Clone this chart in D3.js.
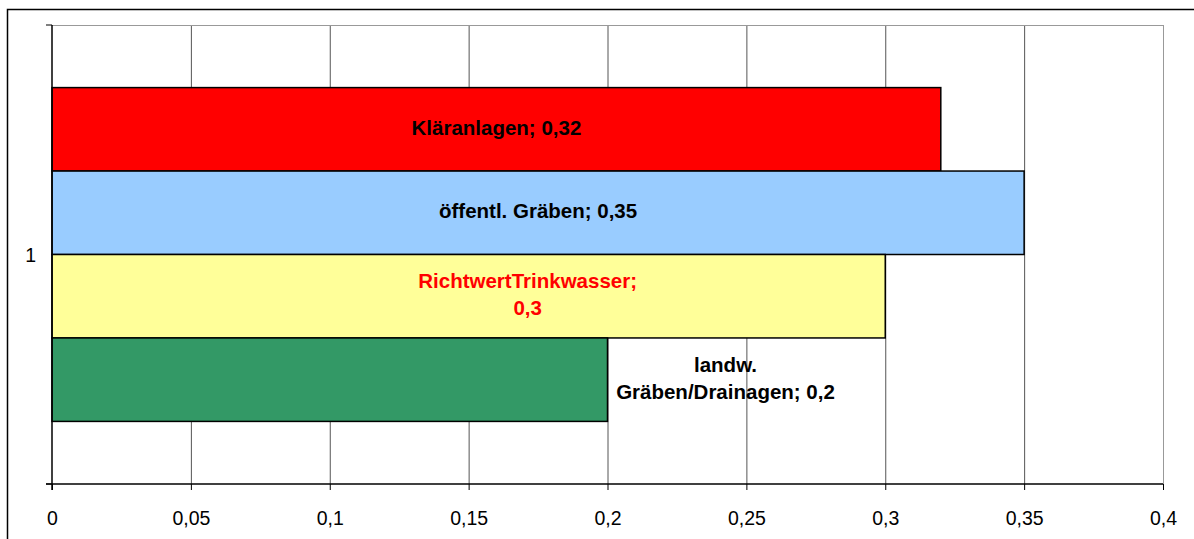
<!DOCTYPE html>
<html>
<head>
<meta charset="utf-8">
<script src="https://cdn.jsdelivr.net/npm/d3@7"></script>
<style>
  body { margin: 0; background: #fff; }
  svg { display: block; font-family: "Liberation Sans", Arial, sans-serif; }
</style>
</head>
<body>
<svg id="chart" width="1194" height="539"></svg>
<script>
// data
var categories = ["1"];
var seriesNames = ["Kläranlagen", "öffentl. Gräben", "RichtwertTrinkwasser", "landw. Gräben/Drainagen"];
var seriesValues = [0.32, 0.35, 0.3, 0.2];
var seriesColors = ["#ff0000", "#99ccff", "#ffff99", "#339966"];
var labelLines = [
	["Kläranlagen; 0,32"],
	["öffentl. Gräben; 0,35"],
	["RichtwertTrinkwasser;", "0,3"],
	["landw.", "Gräben/Drainagen; 0,2"]
];
var labelColors = ["#000", "#000", "#ff0000", "#000"];
var xTicks = [0, 0.05, 0.1, 0.15, 0.2, 0.25, 0.3, 0.35, 0.4];

var svg = d3.select("#chart");
var W = +svg.attr("width"), H = +svg.attr("height");
var margin = { left: 52, top: 25, right: 31, bottom: 55 };

var x = d3.scaleLinear().domain([0, 0.4]).range([margin.left, W - margin.right]);
var y0 = d3.scaleBand().domain(categories).range([margin.top, H - margin.bottom]);
var y1 = d3.scaleBand().domain(seriesNames).range([0, y0.bandwidth()]).paddingInner(0).paddingOuter(0.75);

var fmt = function (v) { return String(v).replace(".", ","); };

// outer chart border (runs off the page right and bottom)
svg.append("path")
	.attr("d", "M7.5," + (H + 5) + "V9.5H" + (W + 5))
	.attr("fill", "none")
	.attr("stroke", "#000")
	.attr("stroke-width", 1.5);

// gridlines
svg.append("g")
	.selectAll("line")
	.data(xTicks.slice(1))
	.join("line")
	.attr("x1", d => x(d) + 0.5).attr("x2", d => x(d) + 0.5)
	.attr("y1", margin.top).attr("y2", H - margin.bottom)
	.attr("stroke", function (d, i) { return i == xTicks.length - 2 ? "#999" : "#555"; })
	.attr("stroke-width", 1);

// plot area top border
svg.append("line")
	.attr("x1", margin.left).attr("x2", x(0.4) + 0.5)
	.attr("y1", margin.top + 0.5).attr("y2", margin.top + 0.5)
	.attr("stroke", "#999");

// bars
var g = svg.append("g").attr("transform", "translate(0," + y0(categories[0]) + ")");
g.selectAll("rect")
	.data(seriesValues)
	.join("rect")
	.attr("x", x(0))
	.attr("y", (d, i) => y1(seriesNames[i]))
	.attr("width", d => x(d) - x(0))
	.attr("height", y1.bandwidth())
	.attr("fill", (d, i) => seriesColors[i])
	.attr("stroke", "#000")
	.attr("stroke-width", 1.5);

// data labels (Excel puts the wrapped ones a bit off centre)
var labelShift = [0, 0, 59, 0];
g.selectAll("text.lbl")
	.data(seriesValues)
	.join("text")
	.attr("class", "lbl")
	.attr("text-anchor", "middle")
	.attr("font-size", "20.5px")
	.attr("font-weight", "bold")
	.attr("fill", (d, i) => labelColors[i])
	.each(function (d, i) {
		var lines = labelLines[i];
		var cx = i == 3 ? x(d) + 118 : (x(0) + x(d)) / 2 + labelShift[i];
		var cy = y1(seriesNames[i]) + y1.bandwidth() / 2 - 2;
		var lh = 27;
		var t = d3.select(this);
		lines.forEach(function (s, k) {
			t.append("tspan")
				.attr("x", cx)
				.attr("y", cy + (k - (lines.length - 1) / 2) * lh)
				.attr("dy", "0.36em")
				.text(s);
		});
	});

// x axis
var xAxis = svg.append("g")
	.attr("transform", "translate(0," + (H - margin.bottom) + ")")
	.call(d3.axisBottom(x).tickValues(xTicks).tickFormat(fmt).tickSize(6).tickSizeOuter(0));
xAxis.select(".domain").attr("stroke", "#000").attr("stroke-width", 1.5).attr("d", "M" + (margin.left - 6) + ",0H" + x(0.4));
xAxis.selectAll(".tick line").attr("stroke", "#000");
xAxis.selectAll(".tick text")
	.attr("font-family", "Liberation Sans, Arial, sans-serif")
	.attr("font-size", "19.5px")
	.attr("fill", "#000")
	.attr("y", 27)
	.attr("dy", "0.71em");

// y axis (category axis, ticks between categories)
var yAxis = svg.append("g").attr("transform", "translate(" + margin.left + ",0)");
yAxis.append("line")
	.attr("x1", 0).attr("x2", 0)
	.attr("y1", margin.top).attr("y2", H - margin.bottom + 6)
	.attr("stroke", "#000").attr("stroke-width", 1.5);
yAxis.selectAll("line.tk")
	.data(y0.range())
	.join("line")
	.attr("class", "tk")
	.attr("x1", -6).attr("x2", 0)
	.attr("y1", d => d).attr("y2", d => d)
	.attr("stroke", "#000");
yAxis.selectAll("text")
	.data(categories)
	.join("text")
	.attr("x", -16)
	.attr("y", d => y0(d) + y0.bandwidth() / 2)
	.attr("dy", "0.36em")
	.attr("text-anchor", "end")
	.attr("font-size", "19.5px")
	.text(d => d);
</script>
</body>
</html>
